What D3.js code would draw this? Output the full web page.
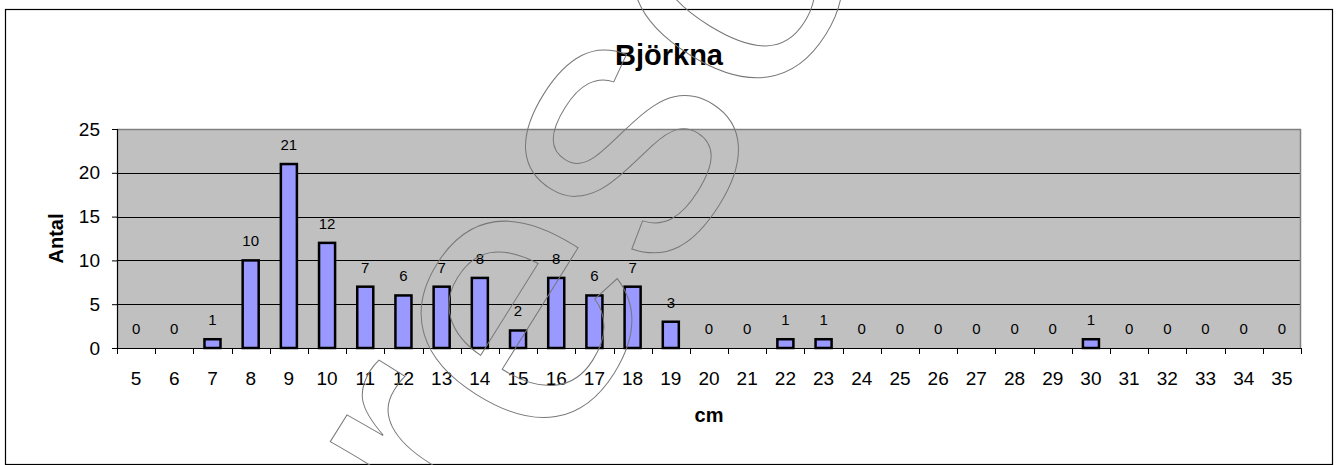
<!DOCTYPE html>
<html>
<head>
<meta charset="utf-8">
<script src="https://cdnjs.cloudflare.com/ajax/libs/d3/7.8.5/d3.min.js"></script>
<style>
  body { margin: 0; background: #fff; }
  svg text { font-family: Arial, "Liberation Sans", sans-serif; }
</style>
</head>
<body>
<div id="chart"></div>
<script>
// data
var categories = [5,6,7,8,9,10,11,12,13,14,15,16,17,18,19,20,21,22,23,24,25,26,27,28,29,30,31,32,33,34,35];
var counts     = [0,0,1,10,21,12,7,6,7,8,2,8,6,7,3,0,0,1,1,0,0,0,0,0,0,1,0,0,0,0,0];
var yTicks = [0,5,10,15,20,25];
var title = "Björkna", xTitle = "cm", yTitle = "Antal";

var W = 1337, H = 465;
var plot = {left: 117, right: 1301, top: 129, bottom: 348};

var svg = d3.select("#chart").append("svg")
	.attr("width", W)
	.attr("height", H);

//outer frame
svg.append("rect")
	.attr("x", 5.5).attr("y", 9.5)
	.attr("width", 1327).attr("height", 455)
	.attr("fill", "#fff")
	.attr("stroke", "#000")
	.attr("stroke-width", 1.2);

var x = d3.scaleBand()
	.domain(categories)
	.range([plot.left, plot.right])
	.paddingInner(0.58)
	.paddingOuter(0.29);
var step = x.step();

var y = d3.scaleLinear()
	.domain([0, 25])
	.range([plot.bottom, plot.top]);

//plot background
svg.append("rect")
	.attr("x", plot.left).attr("y", plot.top)
	.attr("width", plot.right - plot.left)
	.attr("height", plot.bottom - plot.top)
	.attr("fill", "#c0c0c0");

//gridlines
svg.append("g")
	.selectAll("line")
	.data(yTicks.filter(function(d){return d > 0 && d < 25;}))
	.enter().append("line")
	.attr("x1", plot.left).attr("x2", plot.right)
	.attr("y1", function(d){return Math.round(y(d)) + 0.5;})
	.attr("y2", function(d){return Math.round(y(d)) + 0.5;})
	.attr("stroke", "#000")
	.attr("stroke-width", 1);

//top and right edge of plot area
svg.append("path")
	.attr("d", "M" + plot.left + "," + (plot.top + 0.5) + "H" + (plot.right - 0.5) + "V" + plot.bottom)
	.attr("fill", "none")
	.attr("stroke", "#808080")
	.attr("stroke-width", 1.5);

//bars
svg.append("g")
	.selectAll("rect")
	.data(categories)
	.enter().append("rect")
	.attr("x", function(d){return x(d);})
	.attr("width", x.bandwidth())
	.attr("y", function(d,i){return y(counts[i]);})
	.attr("height", function(d,i){return y(0) - y(counts[i]);})
	.attr("fill", "#9999ff")
	.attr("stroke", "#000")
	.attr("stroke-width", 2.5)
	.attr("display", function(d,i){return counts[i] > 0 ? null : "none";});

//value labels
svg.append("g")
	.selectAll("text")
	.data(categories)
	.enter().append("text")
	.attr("x", function(d){return x(d) + x.bandwidth()/2;})
	.attr("y", function(d,i){return y(counts[i]) - 14;})
	.attr("text-anchor", "middle")
	.attr("font-size", 15)
	.attr("fill", "#000")
	.text(function(d,i){return counts[i];});

//y axis
var yAxis = svg.append("g")
	.attr("transform", "translate(" + plot.left + ",0)")
	.call(d3.axisLeft(y).tickValues(yTicks).tickSize(5).tickPadding(12));
yAxis.select(".domain").attr("stroke", "#000").attr("stroke-width", 1.2);
yAxis.selectAll("line").attr("stroke", "#000");
yAxis.selectAll("text").attr("font-size", 19).attr("fill", "#000")
	.style("font-family", "Arial, 'Liberation Sans', sans-serif");

//x axis: line, boundary ticks, centered labels
var xAxis = svg.append("g");
xAxis.append("line")
	.attr("x1", plot.left).attr("x2", plot.right)
	.attr("y1", plot.bottom + 0.5).attr("y2", plot.bottom + 0.5)
	.attr("stroke", "#000").attr("stroke-width", 1.2);
xAxis.selectAll(".tick")
	.data(d3.range(categories.length + 1))
	.enter().append("line")
	.attr("class", "tick")
	.attr("x1", function(i){return Math.round(plot.left + i*step) + 0.5;})
	.attr("x2", function(i){return Math.round(plot.left + i*step) + 0.5;})
	.attr("y1", plot.bottom).attr("y2", plot.bottom + 6)
	.attr("stroke", "#000");
xAxis.selectAll(".lbl")
	.data(categories)
	.enter().append("text")
	.attr("class", "lbl")
	.attr("x", function(d){return x(d) + x.bandwidth()/2;})
	.attr("y", 385)
	.attr("text-anchor", "middle")
	.attr("font-size", 19)
	.text(function(d){return d;});

//titles
svg.append("text")
	.attr("x", 669).attr("y", 65)
	.attr("text-anchor", "middle")
	.attr("font-size", 29)
	.attr("font-weight", "bold")
	.text(title);
svg.append("text")
	.attr("x", (plot.left + plot.right)/2).attr("y", 422)
	.attr("text-anchor", "middle")
	.attr("font-size", 20)
	.attr("font-weight", "bold")
	.text(xTitle);
svg.append("text")
	.attr("transform", "translate(63," + ((plot.top + plot.bottom)/2) + ") rotate(-90)")
	.attr("text-anchor", "middle")
	.attr("font-size", 20)
	.attr("font-weight", "bold")
	.text(yTitle);

//outlined watermark lettering across the chart
svg.append("text")
	.attr("transform", "translate(683,256) rotate(-58)")
	.attr("text-anchor", "middle")
	.attr("font-size", 380)
	.attr("fill", "none")
	.attr("stroke", "#777")
	.attr("stroke-width", 1)
	.text("reso");
</script>
</body>
</html>
